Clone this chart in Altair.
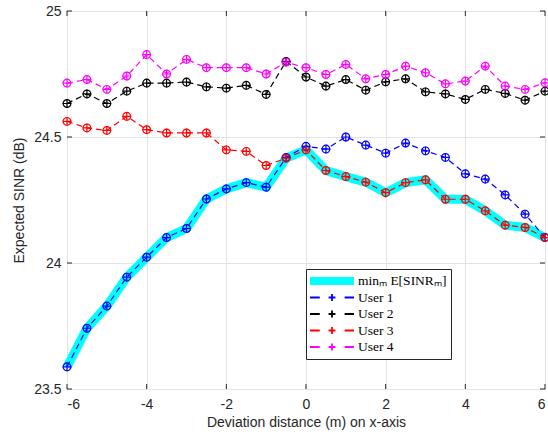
import altair as alt
import pandas as pd
import numpy as np

x_dev = [-6.0, -5.5, -5.0, -4.5, -4.0, -3.5, -3.0, -2.5, -2.0, -1.5, -1.0, -0.5,
         0.0, 0.5, 1.0, 1.5, 2.0, 2.5, 3.0, 3.5, 4.0, 4.5, 5.0, 5.5, 6.0]

user1 = [23.588, 23.741, 23.829, 23.944, 24.023, 24.101, 24.137, 24.254, 24.294, 24.319, 24.301, 24.419,
         24.463, 24.452, 24.500, 24.468, 24.436, 24.476, 24.445, 24.419, 24.354, 24.333, 24.270, 24.194, 24.101]
user2 = [24.633, 24.671, 24.633, 24.682, 24.714, 24.714, 24.718, 24.699, 24.694, 24.705, 24.669, 24.800,
         24.738, 24.702, 24.728, 24.686, 24.719, 24.731, 24.679, 24.671, 24.649, 24.689, 24.673, 24.646, 24.682]
user3 = [24.562, 24.536, 24.526, 24.582, 24.529, 24.516, 24.516, 24.516, 24.449, 24.443, 24.387, 24.416,
         24.449, 24.367, 24.343, 24.321, 24.279, 24.319, 24.330, 24.253, 24.253, 24.207, 24.150, 24.141, 24.101]
user4 = [24.714, 24.728, 24.689, 24.742, 24.827, 24.750, 24.808, 24.775, 24.775, 24.775, 24.750, 24.797,
         24.775, 24.748, 24.788, 24.731, 24.748, 24.781, 24.755, 24.711, 24.722, 24.781, 24.702, 24.689, 24.715]

series_names = ["minₘ E[SINRₘ]", "User 1", "User 2", "User 3", "User 4"]
series_colors = ["#00ffff", "#0000ff", "#000000", "#ff0000", "#ff00ff"]

x_ticks = [-6, -4, -2, 0, 2, 4, 6]
y_ticks = [23.5, 24.0, 24.5, 25.0]

min_sinr = np.min(np.vstack([user1, user2, user3, user4]), axis=0)

rows = []
for name, vals in zip(series_names, [min_sinr, user1, user2, user3, user4]):
    for xv, yv in zip(x_dev, vals):
        rows.append({"x": xv, "y": float(yv), "series": name})
df = pd.DataFrame(rows)
min_df = df[df["series"] == series_names[0]]
users_df = df[df["series"] != series_names[0]]

W, H = 478, 378

xscale = alt.Scale(domain=[-6, 6], nice=False, zero=False)
yscale = alt.Scale(domain=[23.5, 25], nice=False, zero=False)
color_scale = alt.Scale(domain=series_names, range=series_colors)
sw_scale = alt.Scale(type="ordinal", domain=series_names, range=[8, 1.8, 1.8, 1.8, 1.8])
user_sym = "M-1.222,0H-0.68M0.7,0H1.222M-0.19,0H0.19M0,-0.19V0.19"
shape_scale = alt.Scale(domain=series_names, range=["M-1.222,0H1.222", user_sym, user_sym, user_sym, user_sym])

X = alt.X("x:Q", scale=xscale,
          axis=alt.Axis(values=x_ticks, labelExpr="'' + datum.value",
                        title="Deviation distance (m) on x-axis"))
Y = alt.Y("y:Q", scale=yscale,
          axis=alt.Axis(values=y_ticks, labelExpr="'' + datum.value",
                        title="Expected SINR (dB)"))

leg = alt.Legend(orient="none", legendX=239, legendY=258, title=None,
                 fillColor="white", strokeColor="#262626", padding=4,
                 labelFont="Liberation Serif", labelFontSize=13.5, labelColor="#000000",
                 symbolSize=1296, clipHeight=16, rowPadding=0.5, labelOffset=4)

# legend-only layer (draws nothing: all rows filtered out)
legend_layer = alt.Chart(df).transform_filter("datum.x > 100").mark_point(filled=False, opacity=1).encode(
    x=X, y=Y,
    color=alt.Color("series:N", scale=color_scale, legend=leg),
    shape=alt.Shape("series:N", scale=shape_scale, legend=leg),
    strokeWidth=alt.StrokeWidth("series:N", scale=sw_scale, legend=leg),
)

min_line = alt.Chart(min_df).mark_line(color=series_colors[0], strokeWidth=9).encode(
    x="x:Q", y="y:Q",
)

user_lines = alt.Chart(users_df).mark_line(strokeWidth=1.2, strokeDash=[6, 4]).encode(
    x="x:Q", y="y:Q",
    color=alt.Color("series:N", scale=color_scale, legend=None),
)

circles = alt.Chart(users_df).mark_point(shape="circle", filled=False, size=60, strokeWidth=1.2, opacity=1).encode(
    x="x:Q", y="y:Q",
    color=alt.Color("series:N", scale=color_scale, legend=None),
)
pluses = alt.Chart(users_df).mark_point(shape="M-1,0H1M0,-1V1", filled=False, size=77, strokeWidth=1.2, opacity=1).encode(
    x="x:Q", y="y:Q",
    color=alt.Color("series:N", scale=color_scale, legend=None),
)

# inward tick marks (MATLAB style)
xt = pd.DataFrame({"x": x_ticks})
yt = pd.DataFrame({"y": y_ticks})
tick_color = "#262626"
xt_bottom = alt.Chart(xt).mark_rule(color=tick_color, strokeWidth=1).encode(
    x="x:Q", y=alt.value(H), y2=alt.value(H - 5))
xt_top = alt.Chart(xt).mark_rule(color=tick_color, strokeWidth=1).encode(
    x="x:Q", y=alt.value(0), y2=alt.value(5))
yt_left = alt.Chart(yt).mark_rule(color=tick_color, strokeWidth=1).encode(
    y="y:Q", x=alt.value(0), x2=alt.value(5))
yt_right = alt.Chart(yt).mark_rule(color=tick_color, strokeWidth=1).encode(
    y="y:Q", x=alt.value(W), x2=alt.value(W - 5))

chart = alt.layer(legend_layer, min_line, user_lines, circles, pluses,
                  xt_bottom, xt_top, yt_left, yt_right).properties(
    width=W, height=H,
    autosize=alt.AutoSizeParams(type="none"),
    padding={"left": 67, "top": 11, "right": 3, "bottom": 45},
    background="white",
).configure_view(
    stroke="#262626", strokeWidth=1
).configure_axis(
    grid=True, gridColor="#e3e3e3", gridWidth=1,
    domain=False, ticks=False,
    labelFont="Liberation Sans", labelFontSize=14, labelColor="#262626",
    titleFont="Liberation Sans", titleFontSize=14, titleFontWeight="normal", titleColor="#262626",
).configure_axisX(
    labelPadding=8, titlePadding=4,
).configure_axisY(
    labelPadding=6, titlePadding=7,
)

chart.save("out.html", embed_options={"renderer": "svg", "actions": False})
